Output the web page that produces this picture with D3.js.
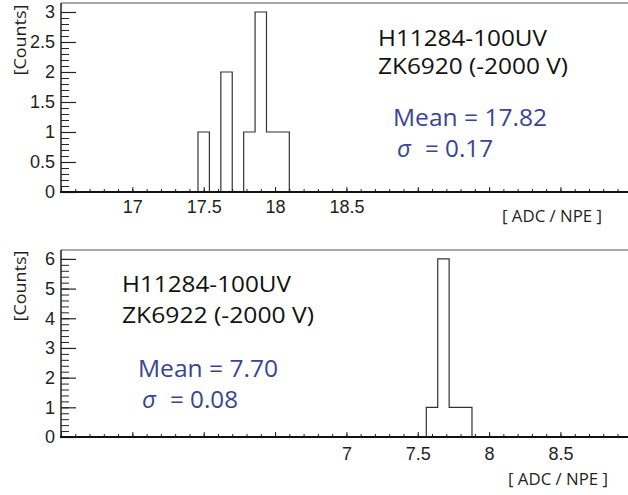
<!DOCTYPE html>
<html>
<head>
<meta charset="utf-8">
<script src="https://cdn.jsdelivr.net/npm/d3@7"></script>
<style>
  body { margin: 0; background: #fff; }
  svg { display: block; font-family: "Open Sans", "Noto Sans", sans-serif; }
  .tick text { fill: #231f20; }
</style>
</head>
<body>
<svg id="canvas" width="628" height="495"></svg>
<script>
// histogram data, bin width 0.08
var binWidth = 0.08;

var topFirstEdge = 17.46;
var topCounts = [1, 0, 2, 0, 1, 3, 1, 1];
var topXDomain = [16.5, 20.5];
var topYDomain = [0, 3.15];
var topXLabels = [17, 17.5, 18, 18.5];
var topYMajor = [0, 0.5, 1, 1.5, 2, 2.5, 3];
var topYMinorStep = 0.1;
var topNotes = ["H11284-100UV", "ZK6920 (-2000 V)"];
var topMean = "Mean = 17.82";
var topSigma = "= 0.17";

var botFirstEdge = 7.56;
var botCounts = [1, 6, 1, 1];
var botXDomain = [5, 9];
var botYDomain = [0, 6.3];
var botXLabels = [7, 7.5, 8, 8.5];
var botYMajor = [0, 1, 2, 3, 4, 5, 6];
var botYMinorStep = 0.2;
var botNotes = ["H11284-100UV", "ZK6922 (-2000 V)"];
var botMean = "Mean = 7.70";
var botSigma = "= 0.08";

var svg = d3.select("#canvas");
var blue = "#3b4397";

function panel(o) {
  var g = svg.append("g");

  var x = d3.scaleLinear().domain(o.xDomain).range([61, 631.8]);
  var y = d3.scaleLinear().domain(o.yDomain).range([o.y0, o.yTop]);

  // top frame line
  g.append("line")
  .attr("x1", 61).attr("x2", 628)
  .attr("y1", o.yTop).attr("y2", o.yTop)
  .attr("stroke", "#8a8a8a").attr("stroke-width", 1.5);

  // histogram outline
  var pts = [[o.firstEdge, 0]];
  o.counts.forEach(function(c, i) {
    var e = o.firstEdge + i * binWidth;
    pts.push([e, c], [e + binWidth, c]);
  });
  pts.push([o.firstEdge + o.counts.length * binWidth, 0]);
  g.append("path")
  .attr("d", d3.line().x(function(d) { return x(d[0]); }).y(function(d) { return y(d[1]); })(pts))
  .attr("fill", "none")
  .attr("stroke", "#333")
  .attr("stroke-width", 1.2);

  // x ticks
  var xMajor = d3.range(0, 9).map(function(i) { return +(o.xDomain[0] + i * 0.5).toFixed(2); });
  var xMinor = d3.range(0, 41).map(function(i) { return +(o.xDomain[0] + i * 0.1).toFixed(2); });

  g.append("g")
  .attr("transform", "translate(0," + o.y0 + ")")
  .call(d3.axisBottom(x).tickValues(xMinor).tickSize(-3).tickFormat(""))
  .call(function(a) { a.select(".domain").remove(); a.selectAll("line").attr("stroke", "#222"); });

  var xa = g.append("g")
  .attr("transform", "translate(0," + o.y0 + ")")
  .call(d3.axisBottom(x).tickValues(xMajor).tickSize(-5)
    .tickFormat(function(d) { return o.xLabels.indexOf(d) >= 0 ? String(d) : ""; }));
  xa.select(".domain").remove();
  xa.selectAll("line").attr("stroke", "#222");
  xa.selectAll("text").attr("dy", null).attr("y", o.xLabelDy)
  .style("font-size", "18px").style("font-family", null);

  // y ticks
  var nMinor = Math.round(o.yMajor[o.yMajor.length - 1] / o.yMinorStep);
  var yMinor = d3.range(0, nMinor + 1).map(function(i) { return +(i * o.yMinorStep).toFixed(2); });
  g.append("g")
  .attr("transform", "translate(61,0)")
  .call(d3.axisLeft(y).tickValues(yMinor).tickSize(-8).tickFormat(""))
  .call(function(a) { a.select(".domain").remove(); a.selectAll("line").attr("stroke", "#222"); });

  var ya = g.append("g")
  .attr("transform", "translate(61,0)")
  .call(d3.axisLeft(y).tickValues(o.yMajor).tickSize(-15).tickPadding(6)
    .tickFormat(function(d) { return String(d); }));
  ya.select(".domain").remove();
  ya.selectAll("line").attr("stroke", "#222").attr("stroke-width", 1.2);
  ya.selectAll("text").style("font-size", "18px").style("font-family", null);

  // axis lines
  g.append("line")
  .attr("x1", 61).attr("x2", 61).attr("y1", o.y0).attr("y2", o.yTop)
  .attr("stroke", "#222").attr("stroke-width", 1.5);
  g.append("line")
  .attr("x1", 60).attr("x2", 628).attr("y1", o.y0).attr("y2", o.y0)
  .attr("stroke", "#111").attr("stroke-width", 2);

  // axis titles
  g.append("text")
  .attr("transform", "translate(" + 26 + "," + o.countsY + ") rotate(-90)")
  .attr("text-anchor", "middle")
  .attr("fill", "#231f20")
  .style("font-size", "17px")
  .attr("textLength", 71).attr("lengthAdjust", "spacingAndGlyphs")
  .text("[Counts]");

  g.append("text")
  .attr("x", o.adcX).attr("y", o.adcY)
  .attr("fill", "#231f20")
  .style("font-size", "16px")
  .attr("textLength", 100).attr("lengthAdjust", "spacingAndGlyphs")
  .text("[ ADC / NPE ]");

  // notes
  g.append("text")
  .attr("x", o.noteX).attr("y", o.noteY[0])
  .attr("fill", "#111").style("font-size", "22px")
  .attr("textLength", 169).attr("lengthAdjust", "spacingAndGlyphs")
  .text(o.notes[0]);
  g.append("text")
  .attr("x", o.noteX).attr("y", o.noteY[1])
  .attr("fill", "#111").style("font-size", "22px")
  .attr("textLength", o.note2Len).attr("lengthAdjust", "spacingAndGlyphs")
  .text(o.notes[1]);

  g.append("text")
  .attr("x", o.meanX).attr("y", o.meanY)
  .attr("fill", blue).style("font-size", "23px")
  .attr("textLength", o.meanLen).attr("lengthAdjust", "spacingAndGlyphs")
  .text(o.mean);

  g.append("text")
  .attr("x", o.meanX + 4).attr("y", o.meanY + 31)
  .attr("fill", blue).style("font-size", "24px").style("font-style", "italic")
  .text("σ");
  g.append("text")
  .attr("x", o.meanX + 32).attr("y", o.meanY + 31)
  .attr("fill", blue).style("font-size", "23px")
  .attr("textLength", 68).attr("lengthAdjust", "spacingAndGlyphs")
  .text(o.sigma);
}

panel({
  firstEdge: topFirstEdge, counts: topCounts,
  xDomain: topXDomain, yDomain: topYDomain, xLabels: topXLabels,
  yMajor: topYMajor, yMinorStep: topYMinorStep,
  y0: 192, yTop: 3, xLabelDy: 21, countsY: 40,
  adcX: 502, adcY: 222,
  notes: topNotes, noteX: 378, noteY: [46, 74], note2Len: 190,
  mean: topMean, meanX: 393, meanY: 126, meanLen: 154, sigma: topSigma
});

panel({
  firstEdge: botFirstEdge, counts: botCounts,
  xDomain: botXDomain, yDomain: botYDomain, xLabels: botXLabels,
  yMajor: botYMajor, yMinorStep: botYMinorStep,
  y0: 437, yTop: 250, xLabelDy: 23, countsY: 286,
  adcX: 508, adcY: 485,
  notes: botNotes, noteX: 122, noteY: [292, 323], note2Len: 192,
  mean: botMean, meanX: 138, meanY: 377, meanLen: 140, sigma: botSigma
});
</script>
</body>
</html>
